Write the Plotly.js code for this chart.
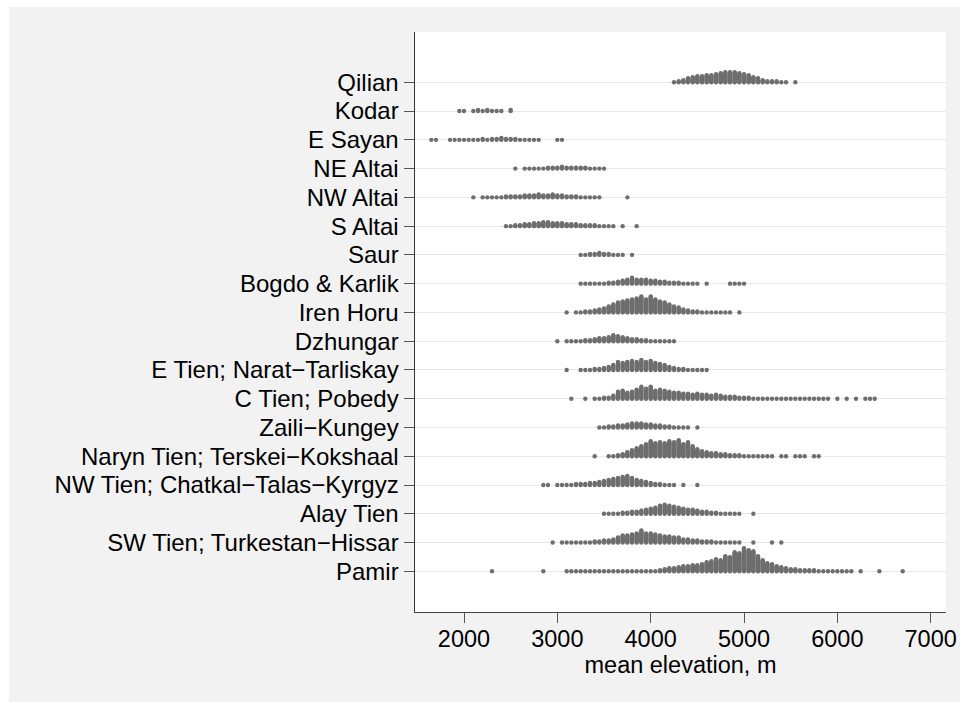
<!DOCTYPE html>
<html><head><meta charset="utf-8">
<script src="https://cdn.plot.ly/plotly-3.0.1.min.js"></script>
<style>
html,body{margin:0;padding:0;background:#ffffff;}
#chart{position:absolute;left:9px;top:7px;width:951px;height:695px;}
</style></head><body><div id="chart"></div>
<script>
const categories = ["Qilian", "Kodar", "E Sayan", "NE Altai", "NW Altai", "S Altai", "Saur",
  "Bogdo & Karlik", "Iren Horu", "Dzhungar", "E Tien; Narat\u2212Tarliskay", "C Tien; Pobedy",
  "Zaili\u2212Kungey", "Naryn Tien; Terskei\u2212Kokshaal", "NW Tien; Chatkal\u2212Talas\u2212Kyrgyz",
  "Alay Tien", "SW Tien; Turkestan\u2212Hissar", "Pamir"];

const xTicks = [2000, 3000, 4000, 5000, 6000, 7000];
const binWidth = 50;   // m, width of each stacking bin

// stacked dot counts per 50 m bin, starting at the given elevation
const qilianStart = 4250;
const qilianCounts = [1,2,3,5,6,7,7,8,8,9,10,11,11,11,10,9,8,6,5,3,2,2,2,1,1,0,1];
const kodarStart = 1950;
const kodarCounts = [1,1,0,1,2,1,2,1,1,1,0,2];
const eSayanStart = 1650;
const eSayanCounts = [1,1,0,0,1,1,1,1,1,1,1,2,1,2,2,3,2,2,2,1,1,1,1,1,0,0,0,1,1];
const neAltaiStart = 2550;
const neAltaiCounts = [1,0,1,1,1,1,1,2,2,2,3,2,2,2,2,2,1,1,1,1];
const nwAltaiStart = 2100;
const nwAltaiCounts = [1,0,1,1,1,1,1,2,2,2,2,3,3,3,4,3,3,4,3,3,2,2,2,1,1,1,1,1,0,0,0,0,0,1];
const sAltaiStart = 2450;
const sAltaiCounts = [1,1,2,2,3,3,4,4,5,5,4,4,4,3,3,3,2,2,2,2,1,1,1,1,0,1,0,0,1];
const saurStart = 3250;
const saurCounts = [1,1,2,2,3,2,2,1,1,1,0,1];
const bogdoStart = 3250;
const bogdoCounts = [1,1,1,1,1,1,2,2,3,4,5,7,5,5,5,4,4,3,3,2,2,2,1,1,1,1,0,1,0,0,0,0,1,1,1,1];
const irenStart = 3100;
const irenCounts = [1,0,1,1,2,2,3,4,5,7,9,11,12,13,14,15,17,14,17,14,12,11,9,7,6,4,3,2,2,1,1,1,1,1,1,1,0,1];
const dzhungarStart = 3000;
const dzhungarCounts = [1,0,1,1,1,1,2,2,3,4,4,5,7,6,5,4,3,3,2,2,1,1,1,1,1,1];
const eTienStart = 3100;
const eTienCounts = [1,0,0,1,1,1,2,2,3,4,6,9,8,9,10,9,11,9,10,8,7,6,4,3,2,2,1,1,1,1,1];
const cTienStart = 3150;
const cTienCounts = [1,0,0,1,0,1,1,2,2,4,8,9,7,8,10,13,11,13,9,10,9,8,7,7,6,6,5,6,5,5,4,5,4,3,3,3,2,2,2,
  1,1,1,1,1,1,1,1,1,1,1,1,1,1,1,1,1,0,1,0,1,0,1,0,1,1,1];
const zailiStart = 3450;
const zailiCounts = [1,1,2,2,3,3,4,5,5,5,4,4,3,3,2,2,1,1,1,1,0,1];
const narynStart = 3400;
const narynCounts = [1,0,0,1,1,2,3,5,7,9,11,13,16,14,15,14,16,15,17,13,15,11,8,6,5,4,4,3,3,2,2,2,
  1,1,1,1,1,1,1,0,1,1,0,1,1,1,0,1,1];
const nwTienStart = 2850;
const nwTienCounts = [1,1,0,1,1,1,1,2,2,2,3,3,4,5,6,7,8,9,10,8,6,5,4,3,2,2,1,1,1,0,1,0,0,1];
const alayStart = 3500;
const alayCounts = [1,1,1,1,2,2,3,3,4,5,6,7,9,10,9,8,7,6,5,5,4,3,3,2,2,1,1,1,1,1,0,0,1];
const swTienStart = 2950;
const swTienCounts = [1,0,1,1,1,1,1,1,1,2,2,3,3,4,6,8,8,9,10,13,10,10,9,8,7,7,6,6,4,4,3,3,2,2,2,
  1,1,1,1,1,1,0,0,1,0,0,0,1,0,1];
const pamirStart = 2300;
const pamirCounts = [1,0,0,0,0,0,0,0,0,0,0,1,0,0,0,0,1,1,1,1,1,1,1,1,1,1,1,1,1,1,1,1,1,1,1,1,
  2,3,4,4,5,6,6,7,7,8,10,11,13,12,16,15,20,19,24,22,21,16,12,9,8,6,5,4,3,3,2,2,2,2,
  1,1,1,1,1,1,1,1,0,1,0,0,0,1,0,0,0,0,1];

const starts = [qilianStart, kodarStart, eSayanStart, neAltaiStart, nwAltaiStart, sAltaiStart, saurStart,
  bogdoStart, irenStart, dzhungarStart, eTienStart, cTienStart, zailiStart, narynStart, nwTienStart,
  alayStart, swTienStart, pamirStart];
const countsList = [qilianCounts, kodarCounts, eSayanCounts, neAltaiCounts, nwAltaiCounts, sAltaiCounts,
  saurCounts, bogdoCounts, irenCounts, dzhungarCounts, eTienCounts, cTienCounts, zailiCounts, narynCounts,
  nwTienCounts, alayCounts, swTienCounts, pamirCounts];

const nCat = categories.length;
const stackStep = 0.0348;   // vertical offset of each stacked dot (about one pixel)
const xs = [], ys = [];
categories.forEach((c, i) => {
  const base = nCat - i;
  countsList[i].forEach((cnt, j) => {
    const v = starts[i] + j * binWidth;
    for (let k = 0; k < cnt; k++) { xs.push(v); ys.push(base + k * stackStep); }
  });
});
const yVals = categories.map((c, i) => nCat - i);

const font = {family: "Liberation Sans, Arial, Helvetica, sans-serif", size: 24, color: "#000000"};
const tickFontX = {family: "Liberation Sans, Arial, Helvetica, sans-serif", size: 23.5, color: "#000000"};

Plotly.newPlot("chart", [{
  type: "scatter", mode: "markers", x: xs, y: ys, hoverinfo: "skip",
  marker: {size: 4.4, color: "#6e6e6e", line: {width: 0}}
}], {
  width: 951, height: 695,
  margin: {l: 406, r: 14, t: 25, b: 90},
  paper_bgcolor: "#f2f2f2", plot_bgcolor: "#ffffff",
  font: font, showlegend: false,
  xaxis: {
    range: [1475, 7164], tickvals: xTicks, ticktext: xTicks.map(String),
    ticks: "outside", ticklen: 10, tickwidth: 1, tickcolor: "#555555",
    showline: true, linecolor: "#444444", linewidth: 1.3, showgrid: false, zeroline: false,
    tickfont: tickFontX, ticklabelstandoff: -5,
    title: {text: "mean elevation, m", font: tickFontX, standoff: 6}
  },
  yaxis: {
    range: [-0.415, 19.749], tickvals: yVals, ticktext: categories,
    ticks: "outside", ticklen: 10, tickwidth: 1, tickcolor: "#555555",
    showline: true, linecolor: "#333333", linewidth: 1.5,
    showgrid: true, gridcolor: "#e8e8e8", gridwidth: 1, zeroline: false,
    tickfont: font
  }
}, {displayModeBar: false, staticPlot: true});
</script></body></html>
